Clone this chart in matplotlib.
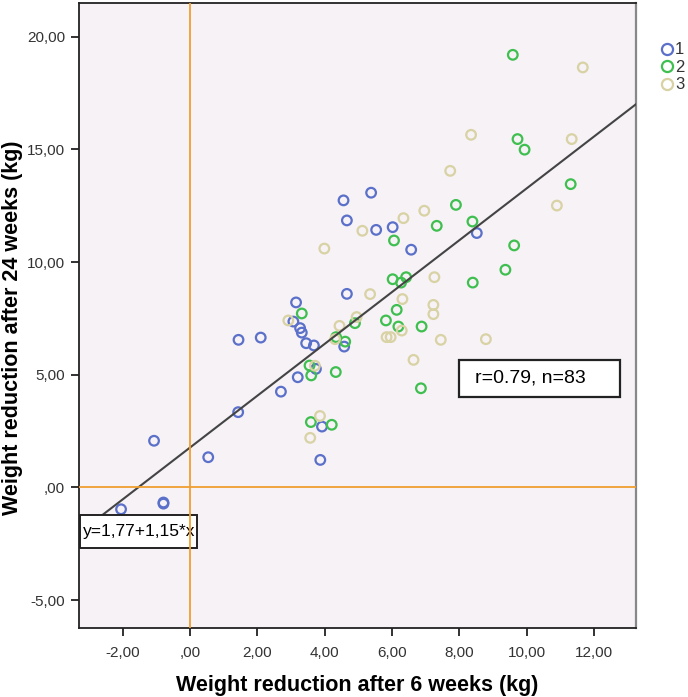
import numpy as np
import matplotlib
matplotlib.use('Agg')
import matplotlib.pyplot as plt
from matplotlib.lines import Line2D
from matplotlib.patches import Rectangle

plt.rcParams['font.family'] = ['Liberation Sans', 'DejaVu Sans']

# group 1 (blue)
x1 = [-2.05, -0.79, -0.79, -1.07, 0.54, 1.43, 2.70, 1.44, 2.10, 3.15, 3.07, 3.27, 3.32, 3.45,
      3.68, 3.74, 3.20, 3.92, 3.87, 4.66, 4.58, 4.56, 5.38, 4.66, 5.53, 6.02, 6.57, 8.52]
y1 = [-0.97, -0.67, -0.72, 2.07, 1.34, 3.34, 4.25, 6.55, 6.65, 8.21, 7.36, 7.07, 6.87, 6.40,
      6.30, 5.26, 4.89, 2.70, 1.22, 8.59, 6.25, 12.74, 13.08, 11.85, 11.43, 11.55, 10.55, 11.29]
# group 2 (green)
x2 = [3.32, 3.55, 3.60, 4.33, 3.59, 4.21, 4.90, 4.34, 4.61, 5.82, 6.14, 6.19, 6.88, 6.86,
      6.06, 7.33, 7.90, 6.02, 6.27, 6.42, 8.40, 9.59, 9.73, 9.94, 11.31, 8.39, 9.63, 9.37]
y2 = [7.72, 5.41, 4.97, 5.12, 2.90, 2.78, 7.29, 6.67, 6.47, 7.41, 7.88, 7.14, 7.14, 4.40,
      10.96, 11.61, 12.54, 9.24, 9.09, 9.33, 9.09, 19.20, 15.46, 14.99, 13.46, 11.80, 10.74, 9.66]
# group 3 (beige)
x3 = [2.92, 3.71, 3.86, 3.57, 5.35, 4.95, 4.44, 4.31, 6.31, 6.29, 5.84, 5.96, 6.64, 7.23,
      7.23, 7.45, 8.79, 5.12, 6.34, 3.99, 6.96, 7.73, 7.26, 11.67, 8.35, 11.34, 10.90]
y3 = [7.41, 5.40, 3.17, 2.20, 8.58, 7.56, 7.17, 6.58, 8.36, 6.96, 6.67, 6.67, 5.66, 8.10,
      7.69, 6.55, 6.58, 11.39, 11.95, 10.60, 12.28, 14.05, 9.33, 18.64, 15.65, 15.46, 12.51]

groups = ['1', '2', '3']
colors = ['#5b70c9', '#3fbf4f', '#d8d2a4']

intercept = 1.77
slope = 1.15
eq_label = 'y=1,77+1,15*x'
stat_label = 'r=0.79, n=83'

xticks = [-2, 0, 2, 4, 6, 8, 10, 12]
yticks = [-5, 0, 5, 10, 15, 20]

def fmt(v):
    s = '%.2f' % abs(v)
    s = s.replace('.', ',')
    if s.startswith('0'):
        s = s[1:]
    return ('-' if v < 0 else '') + s

fig = plt.figure(figsize=(6.88, 6.97), dpi=100)
ax = fig.add_axes([0.1148, 0.099, 0.8096, 0.8967])
ax.set_facecolor('#f6f2f6')

xlim = (-3.3, 13.25)
ylim = (-6.24, 21.5)

for xs, ys, c in zip([x1, x2, x3], [y1, y2, y3], colors):
    ax.scatter(xs, ys, s=48, facecolors='none', edgecolors=c, linewidths=1.6, zorder=3)

xx = np.array(xlim)
ax.plot(xx, intercept + slope * xx, color='#444444', lw=1.5, zorder=4)

ax.axhline(0, color='#f0a030', lw=1.3, zorder=5)
ax.axvline(0, color='#f0a030', lw=1.3, zorder=7)

ax.set_xlim(xlim)
ax.set_ylim(ylim)
ax.set_xticks(xticks)
ax.set_yticks(yticks)
ax.set_xticklabels([fmt(v) for v in xticks])
ax.set_yticklabels([fmt(v) for v in yticks])
ax.tick_params(direction='out', length=6, width=1.3, color='#222222',
               labelsize=11, labelcolor='#333333', pad=4)
ax.tick_params(axis='x', pad=7)

for s in ['left', 'bottom', 'top']:
    ax.spines[s].set_linewidth(1.3)
    ax.spines[s].set_color('#222222')
ax.spines['right'].set_linewidth(1.6)
ax.spines['right'].set_color('#888888')

ax.set_xlabel('Weight reduction after 6 weeks (kg)', fontsize=15.5, fontweight='bold', labelpad=11)
ax.set_ylabel('Weight reduction after 24 weeks (kg)', fontsize=15.5, fontweight='bold')
ax.yaxis.set_label_coords(-0.1, 0.48)

# equation box (lower left)
ax.add_patch(Rectangle((-3.27, -2.69), 3.48, 1.47, facecolor='white', edgecolor='#222222',
                       lw=1.4, zorder=6))
ax.text(-3.18, -1.95, eq_label, fontsize=12.5, va='center', ha='left', zorder=6)

# correlation box
ax.add_patch(Rectangle((7.99, 4.02), 4.79, 1.64, facecolor='white', edgecolor='#222222',
                       lw=1.6, zorder=6))
ax.text(8.47, 4.84, stat_label, fontsize=14, va='center', ha='left', zorder=6)

handles = [Line2D([], [], marker='o', ls='none', markerfacecolor='none',
                  markeredgecolor=c, markeredgewidth=1.6, markersize=8) for c in colors]
leg = fig.legend(handles, groups, loc='upper left', bbox_to_anchor=(0.945, 0.951),
                 frameon=False, handletextpad=0.0, labelspacing=0.15, fontsize=12,
                 handlelength=1.0, borderpad=0)
for t in leg.get_texts():
    t.set_color('#333333')

fig.savefig('out.png', dpi=100)
